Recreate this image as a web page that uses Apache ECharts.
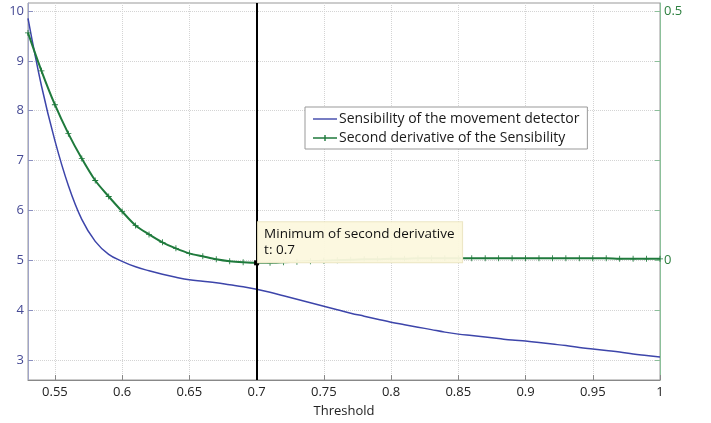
<!DOCTYPE html>
<html>
<head>
<meta charset="utf-8">
<script src="https://cdn.jsdelivr.net/npm/echarts@6/dist/echarts.min.js"></script>
<style>
  html, body { margin: 0; padding: 0; background: #fff; }
  #main { width: 711px; height: 423px; }
</style>
</head>
<body>
<div id="main"></div>
<script>
// threshold values (x)
var thresholds = [0.53, 0.54, 0.55, 0.56, 0.57, 0.58, 0.59, 0.60, 0.61, 0.62,
  0.63, 0.64, 0.65, 0.66, 0.67, 0.68, 0.69, 0.70, 0.71, 0.72,
  0.73, 0.74, 0.75, 0.76, 0.77, 0.78, 0.79, 0.80, 0.81, 0.82,
  0.83, 0.84, 0.85, 0.86, 0.87, 0.88, 0.89, 0.90, 0.91, 0.92,
  0.93, 0.94, 0.95, 0.96, 0.97, 0.98, 0.99, 1.00];

// sensibility (left axis)
var sensibility = [9.85, 8.5, 7.4, 6.5, 5.82, 5.38, 5.12, 4.98, 4.87, 4.79,
  4.72, 4.66, 4.61, 4.58, 4.55, 4.51, 4.47, 4.42, 4.36, 4.29,
  4.22, 4.15, 4.08, 4.01, 3.94, 3.88, 3.82, 3.76, 3.71, 3.66,
  3.61, 3.56, 3.52, 3.49, 3.46, 3.43, 3.40, 3.38, 3.35, 3.32,
  3.29, 3.25, 3.22, 3.19, 3.16, 3.12, 3.09, 3.06];

// second derivative (right axis)
var secondDeriv = [0.456, 0.38, 0.312, 0.254, 0.204, 0.16, 0.128, 0.098, 0.07, 0.052,
  0.036, 0.024, 0.014, 0.008, 0.002, -0.002, -0.004, -0.005, -0.005, -0.004,
  -0.003, -0.002, -0.001, 0.0, 0.001, 0.002, 0.002, 0.003, 0.003, 0.004,
  0.004, 0.004, 0.004, 0.004, 0.004, 0.004, 0.004, 0.004, 0.004, 0.004,
  0.004, 0.004, 0.004, 0.004, 0.003, 0.003, 0.003, 0.003];

var xTicks = [0.55, 0.6, 0.65, 0.7, 0.75, 0.8, 0.85, 0.9, 0.95, 1];
var leftTicks = [3, 4, 5, 6, 7, 8, 9, 10];
var rightTicks = [-0.2, -0.1, 0, 0.1, 0.2, 0.3, 0.4, 0.5];
var rightLabels = [0, 0.5];

var minT = 0.7;
var minVal = -0.005;

var blue = '#3d45aa';
var green = '#1f7a3c';
var font = '"Open Sans", "Noto Sans", sans-serif';

var chart = echarts.init(document.getElementById('main'));

var option = {
  animation: false,
  textStyle: { fontFamily: font },
  grid: { left: 28, right: 51, top: 3, bottom: 38, show: true, borderColor: '#999', borderWidth: 1 },
  legend: {
    orient: 'vertical',
    left: 305,
    top: 107,
    padding: [5, 8, 4, 8],
    itemGap: 5,
    itemWidth: 24,
    itemHeight: 10,
    backgroundColor: '#fff',
    borderColor: '#999',
    borderWidth: 1,
    borderRadius: 0,
    textStyle: { fontSize: 14, color: '#1a1a1a', fontFamily: font, padding: [0, 0, 0, -3] },
    data: [
      { name: 'Sensibility of the movement detector', icon: 'path://M0,4.3H24V5.7H0Z' },
      { name: 'Second derivative of the Sensibility', icon: 'path://M0,4.2H24V5.8H0Z M11.3,2H12.7V8H11.3Z' }
    ]
  },
  xAxis: {
    type: 'value',
    min: 0.53,
    max: 1,
    name: 'Threshold',
    nameLocation: 'middle',
    nameGap: 25,
    nameTextStyle: { fontSize: 13, color: '#222' },
    axisLine: { onZero: false, lineStyle: { color: '#888' } },
    axisTick: { inside: true, length: 5, customValues: xTicks, lineStyle: { color: '#888' } },
    axisLabel: { customValues: xTicks, fontSize: 13, color: '#222', margin: 6 },
    splitLine: { show: true, lineStyle: { color: '#d4d4d4', type: 'dotted' } }
  },
  yAxis: [{
    type: 'value',
    min: 2.6,
    max: 10.16,
    axisLine: { show: true, lineStyle: { color: '#a0a4c8' } },
    axisTick: { show: true, inside: true, length: 5, customValues: leftTicks, lineStyle: { color: '#8a8fc0' } },
    axisLabel: { customValues: leftTicks, fontSize: 13, color: '#464a94', margin: 4 },
    splitLine: { show: true, lineStyle: { color: '#d4d4d4', type: 'dotted' } }
  }, {
    type: 'value',
    position: 'right',
    min: -0.24,
    max: 0.516,
    axisLine: { show: true, lineStyle: { color: '#8cc09a' } },
    axisTick: { show: true, inside: true, length: 5, customValues: rightTicks, lineStyle: { color: '#8cc09a' } },
    axisLabel: { customValues: rightLabels, fontSize: 13, color: '#2e8040', margin: 4 },
    splitLine: { show: false }
  }],
  series: [{
    name: 'Sensibility of the movement detector',
    type: 'line',
    yAxisIndex: 0,
    symbol: 'none',
    smooth: 0.4,
    lineStyle: { color: blue, width: 1.5 },
    itemStyle: { color: blue },
    data: thresholds.map(function (t, i) { return [t, sensibility[i]]; }),
    markLine: {
      silent: true,
      symbol: 'none',
      label: { show: false },
      lineStyle: { color: '#000', width: 2, type: 'solid' },
      data: [{ xAxis: minT }]
    }
  }, {
    name: 'Second derivative of the Sensibility',
    type: 'line',
    yAxisIndex: 1,
    smooth: 0.3,
    symbol: 'path://M4.3,0H5.7V4.3H10V5.7H5.7V10H4.3V5.7H0V4.3H4.3Z',
    symbolSize: 6,
    lineStyle: { color: green, width: 2 },
    itemStyle: { color: green },
    data: thresholds.map(function (t, i) { return [t, secondDeriv[i]]; }),
    markPoint: {
      silent: true,
      symbol: 'rect',
      symbolSize: 5,
      itemStyle: { color: '#000' },
      label: {
        show: true,
        position: [4, -38],
        formatter: 'Minimum of second derivative\nt: 0.7',
        backgroundColor: 'rgba(252,248,222,0.95)',
        borderColor: '#ece6c4',
        borderWidth: 1,
        padding: [4, 6, 4, 6],
        fontSize: 13.5,
        lineHeight: 16,
        color: '#111',
        width: 192
      },
      data: [{ coord: [minT, minVal] }]
    }
  }]
};

chart.setOption(option);
</script>
</body>
</html>
